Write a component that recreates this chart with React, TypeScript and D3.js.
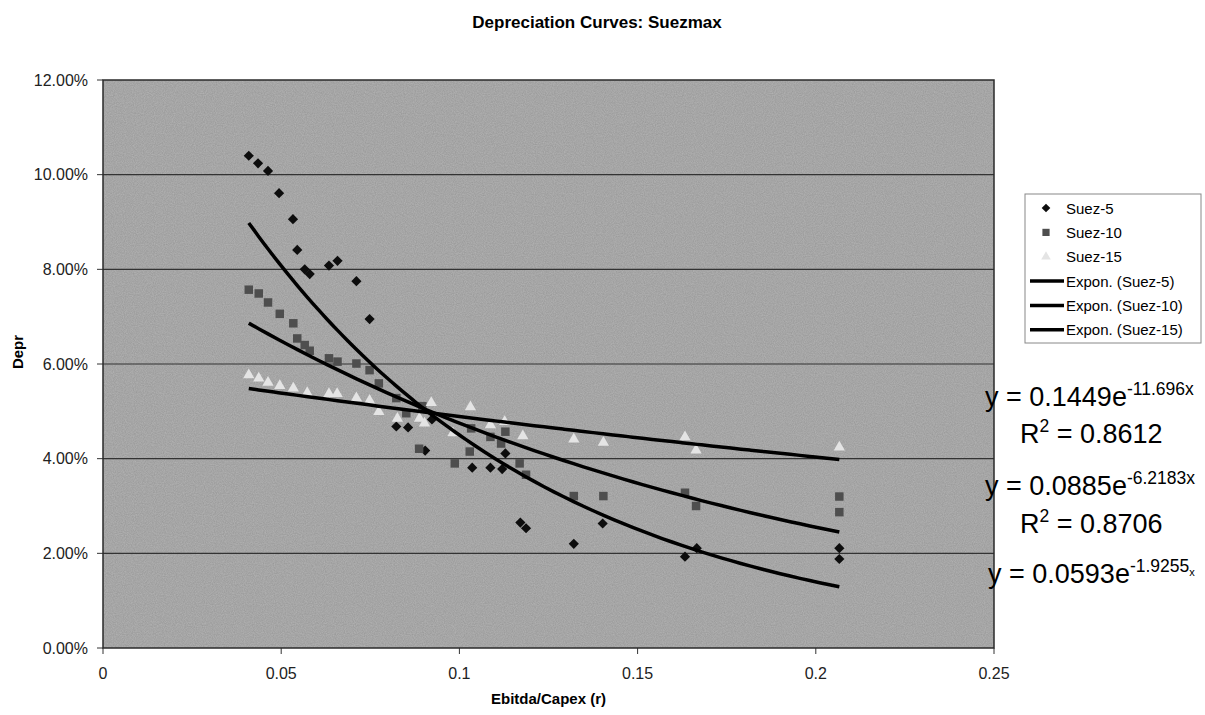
import React from 'react';
import * as d3 from 'd3';

// Ebitda/Capex (r) vs Depr
const suez5: [number, number][] = [
  [0.0409, 0.1040], [0.0435, 0.1024], [0.0463, 0.1008], [0.0494, 0.0961],
  [0.0533, 0.0906], [0.0545, 0.0841], [0.0566, 0.0800], [0.0580, 0.0790],
  [0.0634, 0.0808], [0.0658, 0.0818], [0.0711, 0.0775], [0.0748, 0.0695],
  [0.0823, 0.0468], [0.0856, 0.0466], [0.0904, 0.0417], [0.0923, 0.0483],
  [0.1036, 0.0381], [0.1087, 0.0381], [0.1120, 0.0378], [0.1129, 0.0411],
  [0.1171, 0.0265], [0.1187, 0.0253], [0.1321, 0.0220], [0.1402, 0.0263],
  [0.1633, 0.0193], [0.1666, 0.0211], [0.2066, 0.0211], [0.2066, 0.0188],
];

const suez10: [number, number][] = [
  [0.0409, 0.0757], [0.0437, 0.0749], [0.0463, 0.0730], [0.0496, 0.0706],
  [0.0534, 0.0686], [0.0545, 0.0654], [0.0566, 0.0640], [0.0580, 0.0628],
  [0.0634, 0.0612], [0.0658, 0.0605], [0.0711, 0.0601], [0.0748, 0.0587],
  [0.0774, 0.0559], [0.0823, 0.0528], [0.0851, 0.0496], [0.0896, 0.0511],
  [0.0887, 0.0421], [0.0987, 0.0390], [0.1029, 0.0415], [0.1033, 0.0464],
  [0.1087, 0.0446], [0.1117, 0.0432], [0.1129, 0.0457], [0.1169, 0.0390],
  [0.1187, 0.0366], [0.1321, 0.0321], [0.1404, 0.0321], [0.1633, 0.0328],
  [0.1664, 0.0300], [0.2066, 0.0320], [0.2066, 0.0287],
];

const suez15: [number, number][] = [
  [0.0409, 0.0577], [0.0437, 0.0570], [0.0463, 0.0561], [0.0496, 0.0554],
  [0.0534, 0.0549], [0.0573, 0.0539], [0.0634, 0.0537], [0.0657, 0.0537],
  [0.0711, 0.0528], [0.0748, 0.0523], [0.0774, 0.0499], [0.0826, 0.0485],
  [0.0888, 0.0485], [0.0902, 0.0475], [0.0921, 0.0518], [0.0982, 0.0454],
  [0.1031, 0.0509], [0.1087, 0.0471], [0.1127, 0.0478], [0.1178, 0.0448],
  [0.1321, 0.0441], [0.1404, 0.0434], [0.1633, 0.0446], [0.1664, 0.0418],
  [0.2066, 0.0424],
];

// exponential trendlines y = a * e^(b x)
const trendA = [0.1449, 0.0885, 0.0593];
const trendB = [-11.696, -6.2183, -1.9255];
const trendR2 = ['0.8612', '0.8706'];

const seriesNames = ['Suez-5', 'Suez-10', 'Suez-15'];
const xTicks = [0, 0.05, 0.1, 0.15, 0.2, 0.25];
const yTicks = [0, 0.02, 0.04, 0.06, 0.08, 0.1, 0.12];

const W = 1205;
const H = 715;
const left = 103, right = 994, top = 80, bottom = 648;
const font = 'Arial, "Liberation Sans", sans-serif';

const x = d3.scaleLinear().domain([0, 0.25]).range([left, right]);
const y = d3.scaleLinear().domain([0, 0.12]).range([bottom, top]);

const diamond = d3.symbol().type(d3.symbolSquare).size(52)()!;
const square = d3.symbol().type(d3.symbolSquare).size(72)()!;
const triangle = d3.symbol().type(d3.symbolTriangle).size(55)()!;

const markerPaths = [diamond, square, triangle];
const markerRot = [45, 0, 0];
const markerFill = ['#0d0d0d', '#4e4e4e', '#e4e4e4'];

function trendPath(data: [number, number][], a: number, b: number) {
  const [x0, x1] = d3.extent(data, d => d[0]) as [number, number];
  const pts = d3.range(0, 61).map(i => x0 + ((x1 - x0) * i) / 60);
  return d3.line<number>()
    .x(v => x(v))
    .y(v => y(a * Math.exp(b * v)))
    .curve(d3.curveMonotoneX)(pts)!;
}

export default function App() {
  const all = [suez5, suez10, suez15];
  const pct = d3.format('.2%');

  return (
    <svg width={W} height={H} style={{ position: 'absolute', left: 0, top: 0, background: '#fff' }}
      fontFamily={font}>
      <defs>
        <filter id="grain" x="0" y="0" width="100%" height="100%">
          <feTurbulence type="fractalNoise" baseFrequency="0.9" numOctaves={2} seed={3} />
          <feColorMatrix type="matrix"
            values="0 0 0 0 0  0 0 0 0 0  0 0 0 0 0  0 0 0 0.16 0" />
        </filter>
      </defs>

      <text x={597} y={28} textAnchor="middle" fontSize={17} fontWeight="bold">
        Depreciation Curves: Suezmax
      </text>

      {/* plot area */}
      <rect x={left} y={top} width={right - left} height={bottom - top} fill="#b4b4b4" />
      <rect x={left} y={top} width={right - left} height={bottom - top} filter="url(#grain)" />

      {yTicks.map(t => (
        <g key={t}>
          {t > 0 && t < 0.12 && (
            <line x1={left} x2={right} y1={y(t)} y2={y(t)} stroke="#333" strokeWidth={1.1} />
          )}
          <line x1={left - 6} x2={left} y1={y(t)} y2={y(t)} stroke="#333" />
          <text x={88} y={y(t) + 5.5} textAnchor="end" fontSize={16} fill="#222">{pct(t)}</text>
        </g>
      ))}
      {xTicks.map(t => (
        <g key={t}>
          <line x1={x(t)} x2={x(t)} y1={bottom} y2={bottom + 6} stroke="#333" />
          <text x={x(t)} y={679} textAnchor="middle" fontSize={16} fill="#222">{t}</text>
        </g>
      ))}
      <rect x={left} y={top} width={right - left} height={bottom - top} fill="none"
        stroke="#2a2a2a" strokeWidth={1.5} />

      <text transform={`translate(23,352) rotate(-90)`} textAnchor="middle"
        fontSize={15} fontWeight="bold">Depr</text>
      <text x={(left + right) / 2} y={704} textAnchor="middle" fontSize={15} fontWeight="bold">
        Ebitda/Capex (r)
      </text>

      {/* markers */}
      {all.map((data, si) => (
        <g key={si}>
          {data.map((d, i) => (
            <path key={i} d={markerPaths[si]}
              transform={`translate(${x(d[0])},${y(d[1])}) rotate(${markerRot[si]})`}
              fill={markerFill[si]} />
          ))}
        </g>
      ))}

      {/* trendlines */}
      {all.map((data, si) => (
        <path key={si} d={trendPath(data, trendA[si], trendB[si])} fill="none"
          stroke="#000" strokeWidth={3.5} />
      ))}

      {/* legend */}
      <rect x={1025} y={194} width={176} height={149} fill="#fff" stroke="#888" />
      {seriesNames.map((n, i) => (
        <g key={n} transform={`translate(0,${208 + i * 24.4})`}>
          <path d={markerPaths[i]} transform={`translate(1046,0) rotate(${markerRot[i]}) scale(0.85)`}
            fill={markerFill[i]} />
          <text x={1066} y={5.5} fontSize={15}>{n}</text>
        </g>
      ))}
      {seriesNames.map((n, i) => (
        <g key={n} transform={`translate(0,${281 + i * 24.4})`}>
          <line x1={1030} x2={1064} y1={0} y2={0} stroke="#000" strokeWidth={3.5} />
          <text x={1066} y={5.5} fontSize={15}>Expon. ({n})</text>
        </g>
      ))}

      {/* trendline equations */}
      <text x={985} y={406} fontSize={27}>
        y = {trendA[0]}e<tspan dy={-11} fontSize={17.5}>{trendB[0]}x</tspan>
      </text>
      <text x={1020} y={443} fontSize={27}>
        R<tspan dy={-11} fontSize={17.5}>2</tspan><tspan dy={11}> = {trendR2[0]}</tspan>
      </text>
      <text x={985} y={495} fontSize={27}>
        y = {trendA[1]}e<tspan dy={-11} fontSize={17.5}>{trendB[1]}x</tspan>
      </text>
      <text x={1020} y={533} fontSize={27}>
        R<tspan dy={-11} fontSize={17.5}>2</tspan><tspan dy={11}> = {trendR2[1]}</tspan>
      </text>
      <text x={988} y={583} fontSize={27}>
        y = {trendA[2]}e<tspan dy={-11} fontSize={17.5}>{trendB[2]}</tspan>
        <tspan dy={4} fontSize={11}>x</tspan>
      </text>
    </svg>
  );
}
